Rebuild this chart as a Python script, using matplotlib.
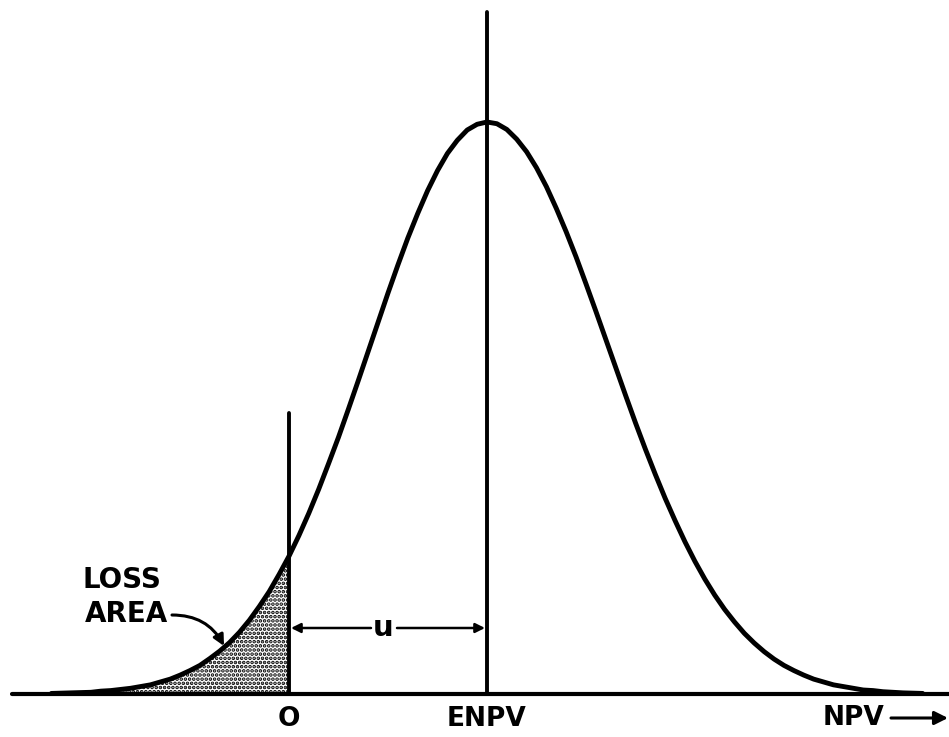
import numpy as np
import matplotlib.pyplot as plt

# distance from ENPV in units of u (O is at -1.0), curve height relative to the peak
offsets = [0.00, 0.05, 0.10, 0.15, 0.20, 0.25, 0.30, 0.35, 0.40, 0.45,
           0.50, 0.55, 0.60, 0.65, 0.70, 0.75, 0.80, 0.85, 0.90, 0.95,
           1.00, 1.05, 1.10, 1.15, 1.20, 1.25, 1.30, 1.35, 1.40, 1.45,
           1.50, 1.55, 1.60, 1.65, 1.70, 1.75, 1.80, 1.85, 1.90, 1.95, 2.00,
           2.10, 2.20]
height_left = [1.000, 0.996, 0.986, 0.968, 0.945, 0.915, 0.880, 0.840, 0.797, 0.750,
               0.701, 0.650, 0.599, 0.548, 0.498, 0.449, 0.403, 0.358, 0.316, 0.277,
               0.241, 0.209, 0.179, 0.153, 0.129, 0.108, 0.090, 0.075, 0.062, 0.050,
               0.041, 0.033, 0.026, 0.021, 0.016, 0.013, 0.010, 0.008, 0.006, 0.005, 0.003,
               0.002, 0.001]
height_right = [1.000, 0.997, 0.987, 0.970, 0.948, 0.920, 0.887, 0.849, 0.808, 0.764,
                0.717, 0.669, 0.620, 0.571, 0.522, 0.474, 0.428, 0.384, 0.342, 0.303,
                0.266, 0.232, 0.201, 0.173, 0.148, 0.126, 0.106, 0.089, 0.074, 0.061,
                0.050, 0.041, 0.033, 0.026, 0.021, 0.016, 0.013, 0.010, 0.007, 0.006, 0.004,
                0.002, 0.001]

enpv = 1.0
zero = 0.0

x = np.concatenate([enpv - np.array(offsets[::-1]), enpv + np.array(offsets[1:])])
y = np.concatenate([np.array(height_left[::-1]), np.array(height_right[1:])])

fig = plt.figure(figsize=(9.49, 7.37), dpi=100)
ax = fig.add_axes([0, 0, 1, 1])
# pixel mapping: px = 289 + 198*x, py = 694 - 572*y
ax.set_xlim(-289 / 198, (949 - 289) / 198)
ax.set_ylim((694 - 737) / 572, 694 / 572)
ax.axis('off')


def px(v):
    return (v - 289) / 198


def py(v):
    return (694 - v) / 572


plt.rcParams['hatch.linewidth'] = 1.8
loss = x <= zero
ax.fill_between(x[loss], 0, y[loss], facecolor='white', edgecolor='black',
                hatch='....', linewidth=0)

ax.plot(x, y, color='black', lw=3.5, solid_capstyle='round')
ax.plot([px(12), px(949)], [0, 0], color='black', lw=3.0, solid_capstyle='round')
ax.plot([enpv, enpv], [0, py(12)], color='black', lw=2.8, solid_capstyle='round')
ax.plot([zero, zero], [0, py(413)], color='black', lw=2.8, solid_capstyle='round')

font = dict(family='DejaVu Sans', color='black', fontweight='bold')
ax.text(zero, py(719), 'O', ha='center', va='center', fontsize=19, **font)
ax.text(enpv, py(719), 'ENPV', ha='center', va='center', fontsize=19, **font)
ax.text(px(823), py(718), 'NPV', ha='left', va='center', fontsize=19, **font)
ax.annotate('', xy=(px(948), py(718)), xytext=(px(891), py(718)),
            arrowprops=dict(arrowstyle='-|>', color='black', lw=2.2, mutation_scale=20,
                            shrinkA=0, shrinkB=0))

ax.text(px(83), py(580), 'LOSS', ha='left', va='center', fontsize=20, **font)
ax.text(px(85), py(614), 'AREA', ha='left', va='center', fontsize=20, **font)
ax.annotate('', xy=(px(224), py(646)), xytext=(px(172), py(615)),
            arrowprops=dict(arrowstyle='-|>', color='black', lw=2.2, mutation_scale=16,
                            connectionstyle='arc3,rad=-0.3', shrinkA=0, shrinkB=0))

u_y = py(628)
ax.text(px(383), u_y, 'u', ha='center', va='center', fontsize=21, **font)
ax.annotate('', xy=(px(291), u_y), xytext=(px(371), u_y),
            arrowprops=dict(arrowstyle='-|>', color='black', lw=1.8, mutation_scale=14,
                            shrinkA=0, shrinkB=0))
ax.annotate('', xy=(px(485), u_y), xytext=(px(397), u_y),
            arrowprops=dict(arrowstyle='-|>', color='black', lw=1.8, mutation_scale=14,
                            shrinkA=0, shrinkB=0))

fig.savefig('out.png', dpi=100, facecolor='white')
